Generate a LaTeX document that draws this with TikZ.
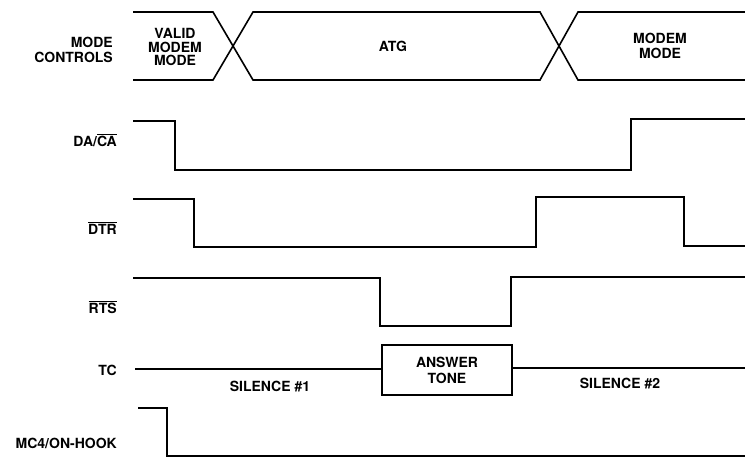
\documentclass[tikz,border=0pt]{standalone}
\usepackage{fontspec}
\setmainfont{TeX Gyre Heros}
\newcommand{\barred}[1]{$\overline{\hbox{#1}}$}

\begin{document}
\begin{tikzpicture}[x=1pt,y=-1pt,font=\fontsize{14}{14.5}\selectfont\bfseries,
        signal/.style={line width=1.6pt},
        signame/.style={anchor=east,inner sep=0pt,align=right}]
        \useasboundingbox (0,0) rectangle (745,458);
        % mode controls bus
        \draw[signal] (133,12) -- (213,12) -- (253,80) -- (540,80) -- (578,12) -- (745,12);
        \draw[signal] (133,80) -- (213,80) -- (253,12) -- (540,12) -- (578,80) -- (745,80);
        \node[signame] (modectl) at (113,50) {MODE\\CONTROLS};
        \node[align=center,font=\fontsize{14}{13.5}\selectfont\bfseries] (validmode) at (175,47) {VALID\\MODEM\\MODE};
        \node (atg) at (393,46) {ATG};
        \node[align=center] (modemmode) at (660,46) {MODEM\\MODE};
        % DA/CA
        \draw[signal] (133,121) -- (175,121) -- (175,170) -- (631,170) -- (631,119) -- (745,119);
        \node[signame] (daca) at (117,140) {DA/\barred{CA}};
        % DTR
        \draw[signal] (133,199) -- (194,199) -- (194,247) -- (536,247) -- (536,197) -- (684,197) -- (684,246) -- (745,246);
        \node[signame] (dtr) at (117,228) {\barred{DTR}};
        % RTS
        \draw[signal] (133,278) -- (380,278) -- (380,326) -- (511,326) -- (511,277) -- (745,277);
        \node[signame] (rts) at (117,307) {\barred{RTS}};
        % TC
        \node[draw,signal,minimum width=130pt,minimum height=50pt,align=center,font=\fontsize{14}{16}\selectfont\bfseries] (tone) at (447,370) {ANSWER\\TONE};
        \coordinate (tcleft) at (135,369);
        \coordinate (tcright) at (745,368);
        \draw[signal] (tcleft) -- (tcleft -| tone.west);
        \draw[signal] (tone.east |- tcright) -- (tcright);
        \node[signame] (tc) at (117,370) {TC};
        \node (silence1) at (270,387) {SILENCE \#1};
        \node (silence2) at (620,384) {SILENCE \#2};
        % MC4/ON-HOOK
        \draw[signal] (138,408) -- (167,408) -- (167,456) -- (745,456);
        \node[signame] (onhook) at (117,443) {MC4/ON-HOOK};
    \end{tikzpicture}
\end{document}
